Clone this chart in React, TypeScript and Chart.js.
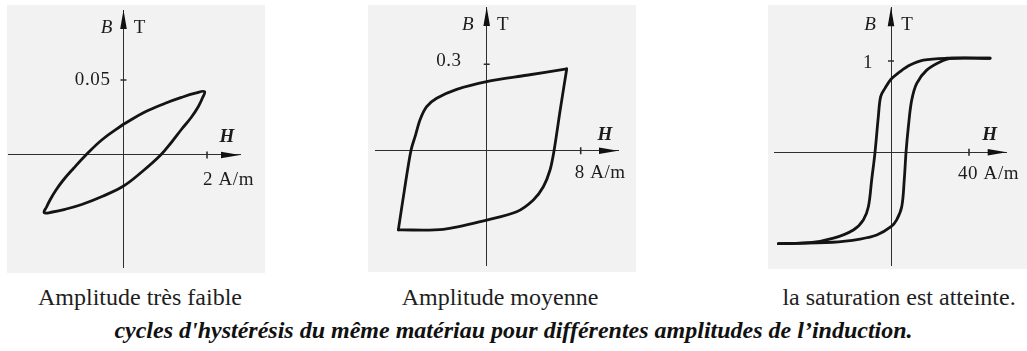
import React, { useEffect, useRef } from 'react';
import { Chart, registerables } from 'chart.js';

Chart.register(...registerables);

// ---------- Data (H in A/m, B in T) ----------
// Panel 1 : amplitude très faible (closed lens-shaped loop, starts/ends on the B axis)
const loop1H = [0, 0.5, 1.0, 1.4, 1.72, 1.94, 1.89, 1.79, 1.62, 1.4, 1.15, 0.89, 0.45, 0, -0.5, -1.0, -1.4, -1.7, -1.9, -1.84, -1.76, -1.62, -1.45, -1.2, -0.9, -0.5, 0];
const loop1B = [0.0205, 0.0285, 0.0345, 0.0385, 0.0412, 0.0423, 0.038, 0.0322, 0.025, 0.0175, 0.0085, 0, -0.011, -0.0207, -0.0275, -0.033, -0.0362, -0.038, -0.0385, -0.0345, -0.030, -0.0235, -0.017, -0.009, 0, 0.0105, 0.0205];

// Panel 2 : amplitude moyenne (two branches meeting at sharp corners)
const loop2UpperH = [6.81, 3.4, 0, -2.55, -4.26, -5.11, -5.68, -6.05, -6.45, -7.0, -7.52];
const loop2UpperB = [0.284, 0.262, 0.240, 0.213, 0.182, 0.153, 0.107, 0.055, 0, -0.136, -0.275];
const loop2LowerH = [-7.52, -3.69, 0, 2.55, 3.97, 4.82, 5.39, 5.73, 6.25, 6.81];
const loop2LowerB = [-0.275, -0.273, -0.241, -0.212, -0.171, -0.125, -0.067, 0, 0.14, 0.284];

// Panel 3 : saturation atteinte
const loop3DescH = [50.8, 28.5, 16.6, 9.8, 4.6, 0, -3.1, -5.3, -6.5, -8.2, -9.9, -11.6, -14.2, -19.3, -29.5, -41.5, -57.8];
const loop3DescB = [1.03, 1.03, 1.01, 0.956, 0.883, 0.80, 0.70, 0.61, 0.39, 0, -0.30, -0.596, -0.74, -0.85, -0.94, -0.99, -1.0];
const loop3AscH = [-57.8, -30, -15.9, -7.3, 0, 2.9, 5.5, 6.8, 7.7, 8.9, 10.6, 13.2, 18.3, 25.1, 31.1, 50.8];
const loop3AscB = [-1.0, -0.985, -0.95, -0.906, -0.815, -0.74, -0.596, -0.30, 0, 0.28, 0.57, 0.756, 0.90, 0.99, 1.03, 1.03];

// Tick values and labels
const hTickValues = [2, 8, 40];
const hTickLabels = ['2 A/m', '8 A/m', '40 A/m'];
const bTickValues = [0.05, 0.3, 1];
const bTickLabels = ['0.05', '0.3', '1'];
const axisNames = { b: 'B', unit: 'T', h: 'H' };

const panelCaptions = ['Amplitude très faible', 'Amplitude moyenne', 'la saturation est atteinte.'];
const mainCaption = "cycles d'hystérésis du même matériau pour différentes amplitudes de l’induction.";

// ---------- Layout / style ----------
const LOOP_COLOR = '#141414';
const AXIS_COLOR = '#2e2e2e';
const PANEL_BG = '#f2f2f2';
const SERIF = '"Liberation Serif", "Times New Roman", serif';

type Layout = {
  left: number; top: number; width: number; height: number;
  pad: { left: number; right: number; top: number; bottom: number };
  xMin: number; xMax: number; yMin: number; yMax: number;
  tension: number;
  bDx: number; tDx: number; btDy: number;
  hDx: number; hDy: number;
  hLabDx: number; hLabDy: number;
  bLabDx: number; bLabDy: number;
  captionX: number;
};

const layouts: Layout[] = [
  {
    left: 7, top: 5, width: 258, height: 268,
    pad: { left: 1, right: 25, top: 5, bottom: 6 },
    xMin: -2.766, xMax: 2.79, yMin: -0.07467, yMax: 0.09667,
    tension: 0.4,
    bDx: -17, tDx: 16, btDy: 18, hDx: -13, hDy: -18,
    hLabDx: -4, hLabDy: 25, bLabDx: -13, bLabDy: 0,
    captionX: 140,
  },
  {
    left: 368, top: 5, width: 268, height: 267,
    pad: { left: 7, right: 18, top: 2, bottom: 7 },
    xMin: -9.506, xMax: 11.174, yMin: -0.3969, yMax: 0.499,
    tension: 0.3,
    bDx: -19, tDx: 16, btDy: 18, hDx: -13, hDy: -16,
    hLabDx: -6, hLabDy: 22, bLabDx: -25, bLabDy: -3,
    captionX: 500,
  },
  {
    left: 768, top: 5, width: 259, height: 264,
    pad: { left: 6, right: 20.3, top: 2.3, bottom: 4 },
    xMin: -60, xMax: 59.33, yMin: -1.234, yMax: 1.588,
    tension: 0.35,
    bDx: -21, tDx: 16, btDy: 18, hDx: -17, hDy: -17,
    hLabDx: -11, hLabDy: 22, bLabDx: -18, bLabDy: 2,
    captionX: 899,
  },
];

const toPoints = (hs: number[], bs: number[]) => hs.map((h, i) => ({ x: h, y: bs[i] }));

const panelSeries = [
  [toPoints(loop1H, loop1B)],
  [toPoints(loop2UpperH, loop2UpperB), toPoints(loop2LowerH, loop2LowerB)],
  [toPoints(loop3DescH, loop3DescB), toPoints(loop3AscH, loop3AscB)],
];

function makeDecor(i: number) {
  const L = layouts[i];
  return {
    id: 'axisDecor' + i,
    afterDatasetsDraw(chart: any) {
      const { ctx, chartArea } = chart;
      const xs = chart.scales.x;
      const ys = chart.scales.y;
      const x0 = xs.getPixelForValue(0);
      const y0 = ys.getPixelForValue(0);
      ctx.save();
      ctx.fillStyle = '#111';
      ctx.strokeStyle = AXIS_COLOR;
      const AL = 19;
      const AW = 3.3;
      // arrow on B axis
      ctx.beginPath();
      ctx.moveTo(x0, chartArea.top);
      ctx.lineTo(x0 - AW, chartArea.top + AL);
      ctx.lineTo(x0 + AW, chartArea.top + AL);
      ctx.closePath();
      ctx.fill();
      // arrow on H axis
      ctx.beginPath();
      ctx.moveTo(chartArea.right, y0);
      ctx.lineTo(chartArea.right - AL, y0 - AW);
      ctx.lineTo(chartArea.right - AL, y0 + AW);
      ctx.closePath();
      ctx.fill();
      // tick marks
      const xt = xs.getPixelForValue(hTickValues[i]);
      const yt = ys.getPixelForValue(bTickValues[i]);
      ctx.lineWidth = 1.6;
      ctx.beginPath();
      ctx.moveTo(xt, y0 - 3.5);
      ctx.lineTo(xt, y0 + 3.5);
      ctx.moveTo(x0 - 3, yt);
      ctx.lineTo(x0 + 3, yt);
      ctx.stroke();
      // texts
      ctx.fillStyle = '#1c1c1c';
      ctx.textBaseline = 'middle';
      ctx.textAlign = 'center';
      ctx.font = `italic 19px ${SERIF}`;
      ctx.fillText(axisNames.b, x0 + L.bDx, chartArea.top + L.btDy);
      ctx.font = `19px ${SERIF}`;
      ctx.fillText(axisNames.unit, x0 + L.tDx, chartArea.top + L.btDy);
      ctx.font = `bold italic 19px ${SERIF}`;
      ctx.fillText(axisNames.h, chartArea.right + L.hDx, y0 + L.hDy);
      ctx.font = `19px ${SERIF}`;
      (ctx as any).letterSpacing = '0.6px';
      ctx.textAlign = 'left';
      ctx.fillText(hTickLabels[i], xt + L.hLabDx, y0 + L.hLabDy);
      ctx.textAlign = 'right';
      ctx.fillText(bTickLabels[i], x0 + L.bLabDx, yt + L.bLabDy);
      ctx.restore();
    },
  };
}

function Panel({ index }: { index: number }) {
  const ref = useRef<HTMLCanvasElement | null>(null);
  const L = layouts[index];
  useEffect(() => {
    if (!ref.current) return;
    const chart = new Chart(ref.current, {
      type: 'scatter',
      data: {
        datasets: panelSeries[index].map((pts) => ({
          data: pts,
          showLine: true,
          borderColor: LOOP_COLOR,
          borderWidth: 2.8,
          borderJoinStyle: 'round',
          borderCapStyle: 'round',
          pointRadius: 0,
          pointHoverRadius: 0,
          tension: L.tension,
          fill: false,
        })),
      },
      options: {
        animation: false,
        responsive: false,
        devicePixelRatio: 1,
        events: [],
        layout: { padding: L.pad },
        plugins: {
          legend: { display: false },
          tooltip: { enabled: false },
        },
        scales: {
          x: {
            type: 'linear',
            min: L.xMin,
            max: L.xMax,
            position: { y: 0 } as any,
            grid: { display: false },
            ticks: { display: false },
            border: { display: true, color: AXIS_COLOR, width: 1 },
          },
          y: {
            type: 'linear',
            min: L.yMin,
            max: L.yMax,
            position: { x: 0 } as any,
            grid: { display: false },
            ticks: { display: false },
            border: { display: true, color: AXIS_COLOR, width: 1 },
          },
        },
      },
      plugins: [makeDecor(index)],
    } as any);
    return () => chart.destroy();
  }, [index]);
  return (
    <div style={{ position: 'absolute', left: L.left, top: L.top, width: L.width, height: L.height, background: PANEL_BG }}>
      <canvas ref={ref} width={L.width} height={L.height} style={{ display: 'block', width: L.width, height: L.height }} />
    </div>
  );
}

export default function App() {
  return (
    <div style={{ position: 'absolute', left: 0, top: 0, width: 1027, height: 351, background: '#ffffff', overflow: 'hidden', fontFamily: SERIF }}>
      {layouts.map((_, i) => (
        <Panel key={i} index={i} />
      ))}
      {panelCaptions.map((c, i) => (
        <div
          key={'c' + i}
          style={{
            position: 'absolute',
            left: layouts[i].captionX - 160,
            width: 320,
            top: 283,
            lineHeight: '28px',
            fontSize: 24,
            textAlign: 'center',
            color: '#1e1e1e',
            whiteSpace: 'nowrap',
          }}
        >
          {c}
        </div>
      ))}
      <div
        style={{
          position: 'absolute',
          left: 0,
          width: 1027,
          top: 316,
          lineHeight: '28px',
          fontSize: 24,
          fontWeight: 'bold',
          fontStyle: 'italic',
          textAlign: 'center',
          color: '#111',
          whiteSpace: 'nowrap',
        }}
      >
        {mainCaption}
      </div>
    </div>
  );
}
